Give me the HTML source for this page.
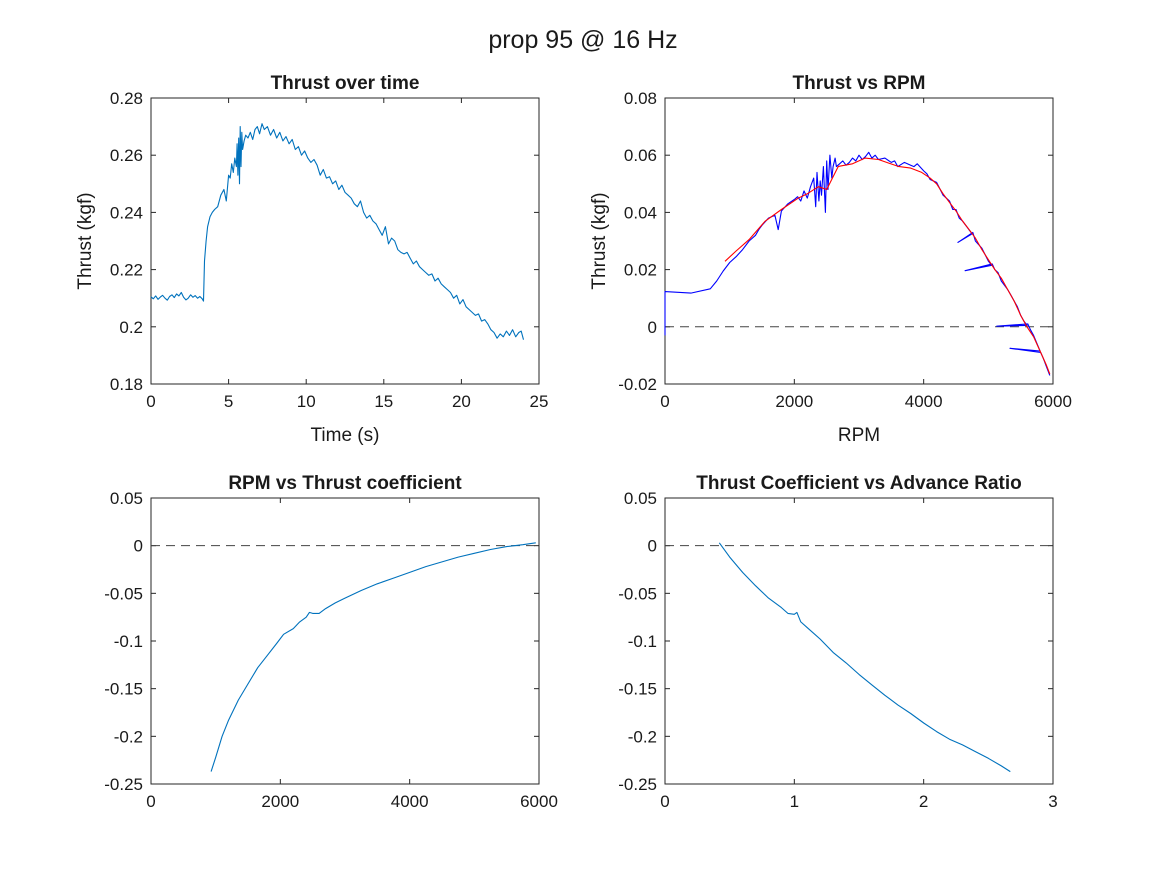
<!DOCTYPE html>
<html><head><meta charset="utf-8">
<style>
body{margin:0;background:#fff;width:1167px;height:875px;overflow:hidden}
svg text{font-family:"Liberation Sans",Arial,sans-serif;fill:#1a1a1a}
</style></head>
<body>
<svg id="fig" width="1167" height="875">
<text x="583" y="48" text-anchor="middle" font-size="25">prop 95 @ 16 Hz</text>
</svg>
<script>
// ---- Plot 1 data ----
const p1Time=[0,0.15,0.3,0.45,0.6,0.75,0.9,1.05,1.2,1.35,1.5,1.65,1.8,1.95,2.1,2.25,2.4,2.55,2.7,2.85,3.0,3.15,3.3,3.38,3.45,3.55,3.65,3.8,3.95,4.1,4.3,4.5,4.7,4.85,5.0,5.1,5.2,5.3,5.4,5.5,5.55,5.6,5.65,5.7,5.75,5.8,5.85,5.9,6.0,6.1,6.25,6.4,6.55,6.7,6.85,7.0,7.15,7.3,7.5,7.7,7.9,8.1,8.3,8.5,8.7,8.9,9.1,9.3,9.5,9.7,9.9,10.1,10.3,10.5,10.7,10.9,11.1,11.3,11.5,11.7,11.9,12.1,12.3,12.5,12.7,12.9,13.1,13.3,13.5,13.7,13.9,14.1,14.3,14.5,14.7,14.9,15.1,15.3,15.5,15.7,15.9,16.1,16.3,16.5,16.7,16.9,17.1,17.3,17.5,17.7,17.9,18.1,18.3,18.5,18.7,18.9,19.1,19.3,19.5,19.7,19.9,20.1,20.3,20.5,20.7,20.9,21.1,21.3,21.5,21.7,21.9,22.1,22.3,22.5,22.7,22.9,23.1,23.3,23.5,23.7,23.85,24.0];
const p1Thrust=[0.2105,0.2098,0.2108,0.2096,0.2104,0.2110,0.2100,0.2093,0.2106,0.2112,0.2102,0.2115,0.2108,0.2120,0.2103,0.2094,0.2100,0.2112,0.2103,0.2109,0.2100,0.2106,0.2098,0.2090,0.2230,0.2300,0.2350,0.2385,0.2400,0.2410,0.2420,0.2460,0.2480,0.2440,0.2530,0.2520,0.2570,0.2540,0.2590,0.2560,0.2640,0.2530,0.2660,0.2500,0.2700,0.2560,0.2680,0.2620,0.2650,0.2670,0.2660,0.2680,0.2655,0.2690,0.2700,0.2675,0.2710,0.2690,0.2700,0.2670,0.2690,0.2660,0.2680,0.2650,0.2665,0.2640,0.2655,0.2620,0.2630,0.2600,0.2615,0.2590,0.2575,0.2585,0.2565,0.2530,0.2550,0.2520,0.2525,0.2500,0.2510,0.2480,0.2495,0.2470,0.2460,0.2450,0.2430,0.2420,0.2440,0.2400,0.2380,0.2390,0.2370,0.2360,0.2340,0.2320,0.2350,0.2290,0.2310,0.2300,0.2270,0.2260,0.2255,0.2260,0.2240,0.2220,0.2230,0.2210,0.2200,0.2190,0.2180,0.2185,0.2160,0.2170,0.2150,0.2140,0.2130,0.2120,0.2100,0.2110,0.2080,0.2095,0.2070,0.2060,0.2050,0.2040,0.2045,0.2020,0.2025,0.2010,0.1990,0.1980,0.1960,0.1975,0.1965,0.1985,0.1970,0.1990,0.1965,0.1980,0.1985,0.1955,0.1960,0.1950];
// ---- Plot 2 data ----
const p2RpmBlue=[0,0,0,400,700,800,900,1000,1100,1200,1300,1400,1450,1500,1600,1700,1750,1800,1900,2000,2050,2100,2150,2200,2250,2300,2330,2350,2380,2400,2420,2450,2480,2500,2520,2550,2580,2600,2630,2650,2700,2750,2800,2850,2900,2950,3000,3050,3100,3150,3200,3250,3300,3400,3500,3550,3600,3700,3800,3850,3900,4000,4050,4100,4200,4300,4400,4450,4500,4550,4600,4700,4750,4530,4760,4800,4900,5000,5050,4640,5060,5100,5150,5200,5250,5300,5350,5400,5450,5500,5550,5600,5130,5610,5650,5700,5800,5335,5810,5850,5900,5950];
const p2ThrustBlue=[-0.003,0.003,0.0123,0.0118,0.0133,0.0160,0.0195,0.0225,0.0245,0.0270,0.0300,0.0320,0.0340,0.0355,0.0380,0.0390,0.0340,0.0405,0.0430,0.0445,0.0455,0.0440,0.0475,0.0450,0.0490,0.0520,0.0420,0.0540,0.0440,0.0510,0.0460,0.0560,0.0400,0.0580,0.0480,0.0600,0.0520,0.0560,0.0590,0.0560,0.0570,0.0580,0.0565,0.0575,0.0590,0.0580,0.0600,0.0585,0.0595,0.0610,0.0590,0.0600,0.0585,0.0590,0.0575,0.0580,0.0560,0.0575,0.0565,0.0560,0.0570,0.0545,0.0535,0.0515,0.0505,0.0460,0.0440,0.0410,0.0410,0.0380,0.0370,0.0340,0.0325,0.0295,0.0330,0.0300,0.0275,0.0230,0.0215,0.0196,0.0220,0.0200,0.0190,0.0160,0.0145,0.0130,0.0110,0.0090,0.0070,0.0040,0.0020,0.0005,0.0002,0.0010,-0.0010,-0.0030,-0.0085,-0.0075,-0.0090,-0.0110,-0.0140,-0.0170];
const p2RpmRed=[928,1100,1300,1547,1800,2062,2200,2371,2500,2680,2900,3093,3300,3608,3800,3969,4100,4200,4300,4400,4500,4600,4700,4800,4900,5000,5100,5200,5300,5400,5500,5600,5700,5800,5900,5950];
const p2ThrustRed=[0.0229,0.0265,0.0305,0.0369,0.0410,0.0450,0.0465,0.0490,0.0480,0.0561,0.0570,0.0590,0.0585,0.0561,0.0555,0.0540,0.0520,0.0500,0.0465,0.0435,0.0405,0.0370,0.0341,0.0310,0.0270,0.0235,0.0200,0.0170,0.0130,0.0090,0.0040,-0.0001,-0.0035,-0.0085,-0.0135,-0.0165];
// ---- Plot 3 data ----
const p3Rpm=[930,1000,1100,1200,1350,1500,1650,1800,1950,2050,2200,2300,2400,2450,2500,2600,2700,2850,3000,3250,3500,3750,4000,4250,4500,4750,5000,5250,5500,5750,5950];
const p3Ct=[-0.237,-0.222,-0.200,-0.183,-0.162,-0.145,-0.128,-0.115,-0.102,-0.093,-0.087,-0.080,-0.075,-0.070,-0.071,-0.071,-0.066,-0.060,-0.055,-0.047,-0.040,-0.034,-0.028,-0.022,-0.017,-0.012,-0.008,-0.004,-0.001,0.001,0.003];
// ---- Plot 4 data ----
const p4J=[0.42,0.5,0.6,0.7,0.8,0.9,0.95,1.0,1.02,1.05,1.1,1.2,1.3,1.4,1.5,1.6,1.7,1.8,1.9,2.0,2.1,2.2,2.3,2.4,2.5,2.6,2.67];
const p4Ct=[0.003,-0.012,-0.028,-0.042,-0.055,-0.065,-0.071,-0.072,-0.070,-0.080,-0.086,-0.098,-0.112,-0.123,-0.135,-0.146,-0.157,-0.167,-0.176,-0.186,-0.195,-0.203,-0.209,-0.216,-0.223,-0.231,-0.237];

const NS='http://www.w3.org/2000/svg';
const fig=document.getElementById('fig');
function mk(tag,attrs,parent){const e=document.createElementNS(NS,tag);for(const k in attrs)e.setAttribute(k,attrs[k]);(parent||fig).appendChild(e);return e;}
function fmt(v){return (Math.round(v*1000)/1000).toString();}
function axes(cfg){
  const g=mk('g',{});
  
  
  const {x0,x1,y0,y1,xmin,xmax,ymin,ymax}=cfg;
  const sx=v=>x0+(v-xmin)/(xmax-xmin)*(x1-x0);
  const sy=v=>y1-(v-ymin)/(ymax-ymin)*(y1-y0);
  const box=mk('rect',{x:x0,y:y0,width:x1-x0,height:y1-y0,fill:'#fff',stroke:'#262626','stroke-width':1},g);
  
  
  cfg.xticks.forEach(v=>{const x=sx(v);
    mk('line',{x1:x,x2:x,y1:y1,y2:y1-5,stroke:'#262626'},g);
    mk('line',{x1:x,x2:x,y1:y0,y2:y0+5,stroke:'#262626'},g);
    const t=mk('text',{x:x,y:y1+23,'text-anchor':'middle','font-size':17},g);t.textContent=fmt(v);
    
    });
  cfg.yticks.forEach(v=>{const y=sy(v);
    mk('line',{x1:x0,x2:x0+5,y1:y,y2:y,stroke:'#262626'},g);
    mk('line',{x1:x1,x2:x1-5,y1:y,y2:y,stroke:'#262626'},g);
    const t=mk('text',{x:x0-8,y:y+6,'text-anchor':'end','font-size':17},g);t.textContent=fmt(v);
    
    });
  const ti=mk('text',{x:(x0+x1)/2,y:y0-9,'text-anchor':'middle','font-size':19,'font-weight':'bold'},g);ti.textContent=cfg.title;
  
  
  if(cfg.xlabel){const t=mk('text',{x:(x0+x1)/2,y:y1+57,'text-anchor':'middle','font-size':19},g);t.textContent=cfg.xlabel;
    
    }
  if(cfg.ylabel){const yc=(y0+y1)/2;const t=mk('text',{x:x0-60,y:yc,'text-anchor':'middle','font-size':19,transform:`rotate(-90 ${x0-60} ${yc})`},g);t.textContent=cfg.ylabel;
    
    }
  if(cfg.zero){const l=mk('line',{x1:x0,x2:x1,y1:sy(0),y2:sy(0),stroke:'#444','stroke-dasharray':'9,6','stroke-width':1},g);
    
    }
  return {g,sx,sy};
}
function line(ax,xs,ys,color,name){
  const d=xs.map((v,i)=>(i?'L':'M')+ax.sx(v).toFixed(1)+','+ax.sy(ys[i]).toFixed(1)).join('');
  const p=mk('path',{d:d,fill:'none',stroke:color,'stroke-width':1.1,'stroke-linejoin':'round'},ax.g);
  
  
}
const a1=axes({name:'thrust-over-time-axes',x0:151,x1:539,y0:98,y1:384,xmin:0,xmax:25,ymin:0.18,ymax:0.28,xticks:[0,5,10,15,20,25],yticks:[0.18,0.2,0.22,0.24,0.26,0.28],title:'Thrust over time',xlabel:'Time (s)',ylabel:'Thrust (kgf)'});
line(a1,p1Time,p1Thrust,'#0072BD','thrust-time-line');
const a2=axes({name:'thrust-vs-rpm-axes',x0:665,x1:1053,y0:98,y1:384,xmin:0,xmax:6000,ymin:-0.02,ymax:0.08,xticks:[0,2000,4000,6000],yticks:[-0.02,0,0.02,0.04,0.06,0.08],title:'Thrust vs RPM',xlabel:'RPM',ylabel:'Thrust (kgf)',zero:true});
line(a2,p2RpmBlue,p2ThrustBlue,'#0000FF','thrust-rpm-raw-line');
line(a2,p2RpmRed,p2ThrustRed,'#FF0000','thrust-rpm-smoothed-line');
const a3=axes({name:'rpm-vs-ct-axes',x0:151,x1:539,y0:498,y1:784,xmin:0,xmax:6000,ymin:-0.25,ymax:0.05,xticks:[0,2000,4000,6000],yticks:[-0.25,-0.2,-0.15,-0.1,-0.05,0,0.05],title:'RPM vs Thrust coefficient',zero:true});
line(a3,p3Rpm,p3Ct,'#0072BD','ct-rpm-line');
const a4=axes({name:'ct-vs-advance-ratio-axes',x0:665,x1:1053,y0:498,y1:784,xmin:0,xmax:3,ymin:-0.25,ymax:0.05,xticks:[0,1,2,3],yticks:[-0.25,-0.2,-0.15,-0.1,-0.05,0,0.05],title:'Thrust Coefficient vs Advance Ratio',zero:true});
line(a4,p4J,p4Ct,'#0072BD','ct-j-line');
</script>
</body></html>
